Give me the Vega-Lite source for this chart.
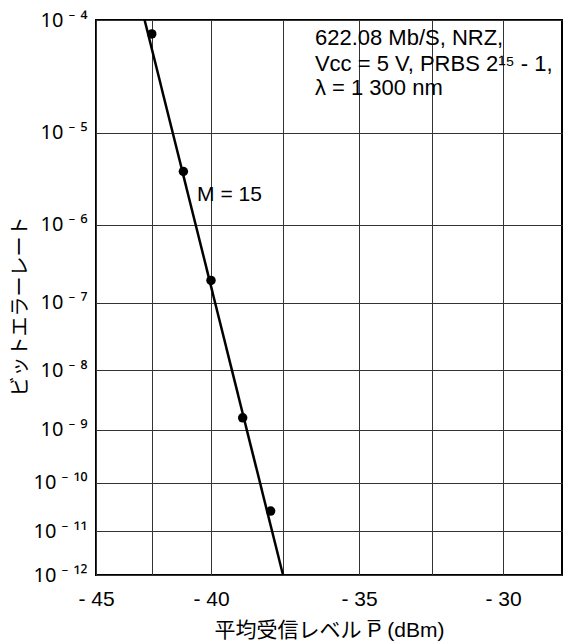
{
  "$schema": "https://vega.github.io/schema/vega-lite/v6.json",
  "width": 466,
  "height": 555,
  "autosize": {"type": "none"},
  "padding": {"left": 96, "top": 20, "right": 1, "bottom": 69},
  "background": "white",
  "config": {
    "view": {"stroke": "black", "strokeWidth": 2},
    "font": "Liberation Sans, Arial, sans-serif"
  },
  "datasets": {
    "points": [
      {"p": -42.51, "q": 4.112},
      {"p": -41.17, "q": 5.399},
      {"p": -40.0, "q": 6.698},
      {"p": -38.9, "q": 8.792},
      {"p": -37.93, "q": 10.574}
    ],
    "fit": [
      {"p": -42.83, "q": 4},
      {"p": -37.5, "q": 12}
    ],
    "conditions": [
      {"p": -36.45, "q": 4.149, "label": "622.08 Mb/S, NRZ,"},
      {"p": -36.45, "q": 4.364, "label": "Vᴄᴄ = 5 V, PRBS 2¹⁵  -  1,"},
      {"p": -36.45, "q": 4.575, "label": "λ = 1 300 nm"}
    ],
    "curve": [
      {"p": -40.59, "q": 5.653, "label": "M = 15"}
    ]
  },
  "layer": [
    {
      "data": {"name": "fit"},
      "mark": {"type": "line", "color": "black", "strokeWidth": 2.5},
      "encoding": {
        "x": {
          "field": "p",
          "type": "quantitative",
          "scale": {
            "type": "linear",
            "domain": [-45, -42.5, -40, -37.5, -35, -32.5, -30, -28],
            "range": [0, 56, 115, 187, 263, 336, 407, 466],
            "zero": false,
            "nice": false
          },
          "axis": {
            "values": [-45, -42.5, -40, -37.5, -35, -32.5, -30],
            "labelExpr": "datum.value % 5 == 0 ? '- ' + abs(datum.value) : ''",
            "ticks": false,
            "domain": false,
            "grid": true,
            "gridColor": "#333333",
            "gridWidth": 1,
            "gridOpacity": 1,
            "labelFontSize": 21,
            "labelPadding": 13,
            "labelColor": "black",
            "labelFlush": false,
            "labelOverlap": false,
            "title": "平均受信レベル P̅ (dBm)",
            "titleFont": "Liberation Sans, Noto Sans CJK JP",
            "titleFontSize": 21,
            "titleFontWeight": "normal",
            "titleColor": "black",
            "titleY": 55,
            "titleBaseline": "middle"
          }
        },
        "y": {
          "field": "q",
          "type": "quantitative",
          "scale": {"type": "log", "domain": [4, 12], "reverse": true, "nice": false},
          "axis": {
            "values": [4, 5, 6, 7, 8, 9, 10, 11, 12],
            "labelExpr": "'10 ⁻ ' + (datum.value < 10 ? substring('⁰¹²³⁴⁵⁶⁷⁸⁹', datum.value, datum.value + 1) : '¹' + substring('⁰¹²³⁴⁵⁶⁷⁸⁹', datum.value - 10, datum.value - 9))",
            "ticks": false,
            "domain": false,
            "grid": true,
            "gridColor": "#333333",
            "gridWidth": 1,
            "gridOpacity": 1,
            "labelFont": "Noto Sans",
            "labelFontSize": 20,
            "labelPadding": 9,
            "labelColor": "black",
            "labelFlush": false,
            "labelOverlap": false,
            "title": "ビットエラーレート",
            "titleFont": "Noto Sans CJK JP",
            "titleFontSize": 20,
            "titleFontWeight": "normal",
            "titleColor": "black",
            "titleX": -76,
            "titleY": 286,
            "titleBaseline": "middle"
          }
        }
      }
    },
    {
      "data": {"name": "points"},
      "mark": {"type": "point", "filled": true, "color": "black", "size": 90, "opacity": 1},
      "encoding": {
        "x": {"field": "p", "type": "quantitative"},
        "y": {"field": "q", "type": "quantitative"}
      }
    },
    {
      "data": {"name": "conditions"},
      "mark": {"type": "text", "align": "left", "baseline": "middle", "fontSize": 22, "color": "black"},
      "encoding": {
        "x": {"field": "p", "type": "quantitative"},
        "y": {"field": "q", "type": "quantitative"},
        "text": {"field": "label"}
      }
    },
    {
      "data": {"name": "curve"},
      "mark": {"type": "text", "align": "left", "baseline": "middle", "fontSize": 21, "color": "black"},
      "encoding": {
        "x": {"field": "p", "type": "quantitative"},
        "y": {"field": "q", "type": "quantitative"},
        "text": {"field": "label"}
      }
    }
  ]
}
